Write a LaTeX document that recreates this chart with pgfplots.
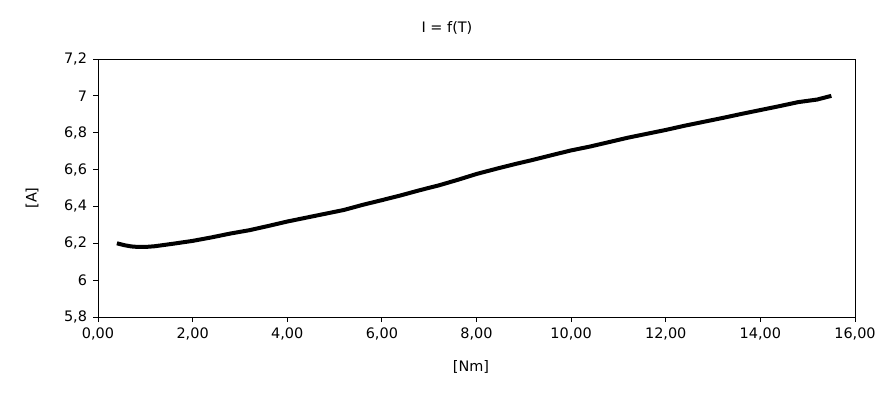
\documentclass[border=0pt]{standalone}
\usepackage{pgfplots}
\pgfplotsset{compat=1.18}
\usepackage{fontspec}
\setmainfont{DejaVu Sans}
\begin{document}
\fontsize{14.5}{17}\selectfont
\begin{tikzpicture}
\begin{axis}[
  scale only axis,
  width=757bp, height=258bp,
  xmin=0, xmax=16, ymin=5.8, ymax=7.2,
  xtick={0,2,...,16},
  ytick={5.8,6,6.2,6.4,6.6,6.8,7,7.2},
  tick pos=left,
  tick align=outside,
  major tick length=5bp,
  axis line style={line width=0.8bp},
  tick style={line width=0.8bp, black},
  /pgf/number format/assume math mode=true,
  xticklabel style={/pgf/number format/fixed, /pgf/number format/fixed zerofill, /pgf/number format/precision=2, /pgf/number format/use comma, yshift=-1bp},
  yticklabel style={/pgf/number format/fixed, /pgf/number format/precision=1, /pgf/number format/use comma, xshift=-1bp},
  ticklabel style={font=\fontsize{14.5}{17}\selectfont},
]
\addplot[black, line width=4bp] coordinates {
(0.40,6.200) (0.55,6.190) (0.70,6.183) (0.85,6.180) (1.00,6.180) (1.20,6.184)
(1.60,6.198) (2.00,6.213) (2.40,6.232) (2.80,6.253) (3.20,6.271) (3.60,6.294)
(4.00,6.318) (4.40,6.339) (4.80,6.360) (5.20,6.381) (5.60,6.409) (6.00,6.434)
(6.40,6.460) (6.80,6.488) (7.20,6.514) (7.60,6.544) (8.00,6.576) (8.40,6.603)
(8.80,6.629) (9.20,6.653) (9.60,6.679) (10.00,6.704) (10.40,6.725) (10.80,6.749)
(11.20,6.773) (11.60,6.794) (12.00,6.815) (12.40,6.838) (12.80,6.859) (13.20,6.880)
(13.60,6.902) (14.00,6.923) (14.40,6.944) (14.80,6.966) (15.20,6.980) (15.50,7.000)
};
\end{axis}
\node at (349bp,289bp) {I = f(T)};
\node[rotate=90] at (-66bp,119bp) {[A]};
\node at (373bp,-50bp) {[Nm]};
\path[use as bounding box] (-98bp,-81bp) rectangle (797bp,317bp);
\end{tikzpicture}
\end{document}
